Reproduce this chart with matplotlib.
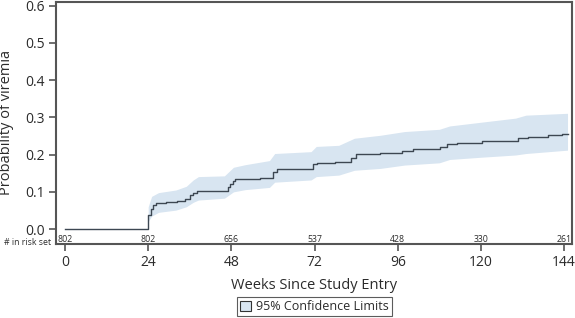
import matplotlib
matplotlib.use('Agg')
import matplotlib.pyplot as plt
from matplotlib.patches import Patch
from matplotlib.transforms import blended_transform_factory

plt.rcParams['font.family'] = ['Open Sans', 'DejaVu Sans']

# step estimate of cumulative probability
weeks = [0, 24.0, 24.7, 25.5, 26.3, 29.0, 32.2, 34.6, 36.1, 37.0, 38.0, 47.1, 47.6,
         48.6, 49.1, 56.3, 60.0, 61.1, 71.7, 72.6, 78.0, 82.5, 84.0, 91.0, 97.2,
         100.5, 104.0, 108.2, 110.1, 113.0, 120.3, 130.8, 133.5, 139.5, 143.5, 145.0]
prob = [0.0, 0.038, 0.053, 0.065, 0.071, 0.072, 0.076, 0.080, 0.091, 0.098, 0.103, 0.114,
        0.120, 0.130, 0.134, 0.138, 0.154, 0.161, 0.175, 0.178, 0.181, 0.190, 0.202,
        0.205, 0.211, 0.214, 0.216, 0.221, 0.228, 0.230, 0.237, 0.244, 0.248, 0.252,
        0.256, 0.256]

# 95% confidence band
ci_weeks = [24.0, 25.0, 27.0, 32.0, 35.0, 37.0, 38.5, 46.0, 48.6, 52.0, 59.0, 60.5, 71.0,
            72.5, 79.0, 83.5, 91.0, 98.0, 108.0, 111.0, 120.0, 130.0, 133.0, 145.0]
ci_low = [0.020, 0.035, 0.045, 0.051, 0.060, 0.072, 0.078, 0.083, 0.100, 0.106, 0.112,
          0.126, 0.132, 0.141, 0.145, 0.158, 0.163, 0.172, 0.178, 0.187, 0.193, 0.199,
          0.203, 0.212]
ci_high = [0.060, 0.088, 0.098, 0.105, 0.115, 0.132, 0.141, 0.143, 0.166, 0.173, 0.184,
           0.203, 0.208, 0.222, 0.225, 0.244, 0.252, 0.262, 0.268, 0.277, 0.287, 0.298,
           0.306, 0.311]

risk_weeks = [0, 24, 48, 72, 96, 120, 144]
risk_set = [802, 802, 656, 537, 428, 330, 261]

text_col = '#2b2b2b'
spine_col = '#555555'

fig = plt.figure(figsize=(5.75, 3.18), dpi=100)
ax = fig.add_axes([0.0974, 0.2327, 0.8974, 0.7623])

ax.fill_between(ci_weeks, ci_low, ci_high, color='#d8e5f1', lw=0)
ax.step(weeks, prob, where='post', color='#3d4752', lw=1.0)

ax.set_xlim(-2.6, 146.3)
ax.set_ylim(-0.04, 0.611)
ax.set_xticks(risk_weeks)
ax.set_yticks([0.0, 0.1, 0.2, 0.3, 0.4, 0.5, 0.6])
ax.set_yticklabels(['0.0', '0.1', '0.2', '0.3', '0.4', '0.5', '0.6'])
ax.tick_params(direction='out', length=5, width=1.2, color=spine_col,
               labelsize=10, labelcolor=text_col, pad=3)
for s in ax.spines.values():
    s.set_color(spine_col)
    s.set_linewidth(1.5)

ax.set_xlabel('Weeks Since Study Entry', fontsize=10.5, color=text_col, labelpad=6)
ax.set_ylabel('Probability of viremia', fontsize=10.5, color=text_col, labelpad=8)

tr = blended_transform_factory(ax.transData, ax.transAxes)
for w, n in zip(risk_weeks, risk_set):
    ax.text(w, 0.0, str(n), transform=tr, ha='center', va='bottom',
            fontsize=6.3, color=text_col)
ax.text(-0.01, -0.014, '# in risk set', transform=ax.transAxes, ha='right',
        va='bottom', fontsize=6.3, color=text_col)

handle = Patch(facecolor='#d8e5f1', edgecolor='#333333', lw=0.8)
leg = fig.legend([handle], ['95% Confidence Limits'], loc='lower center',
                 bbox_to_anchor=(0.547, 0.005), fontsize=9, frameon=True,
                 fancybox=False, edgecolor='#333333', handlelength=0.9,
                 handleheight=0.9, handletextpad=0.4, borderpad=0.25,
                 borderaxespad=0)
leg.get_frame().set_linewidth(0.8)
for t in leg.get_texts():
    t.set_color(text_col)

fig.savefig('out.png', dpi=100)
